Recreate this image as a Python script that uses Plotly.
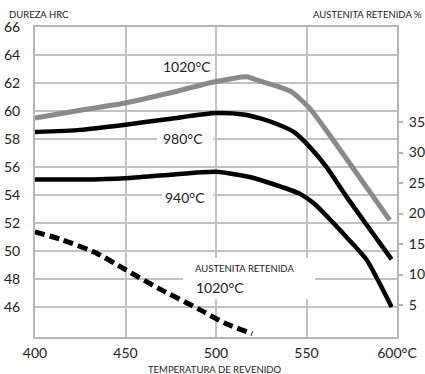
import plotly.graph_objects as go

# Hardness (HRC) vs tempering temperature for three hardening temperatures
temp_1020 = [400, 425, 449, 475, 498, 517, 524, 533, 542, 552, 561, 578, 596]
hrc_1020 = [59.5, 60.05, 60.55, 61.3, 62.05, 62.45, 62.15, 61.8, 61.35, 60.15, 58.6, 55.5, 52.2]

temp_980 = [400, 425, 449, 475, 500, 515, 525, 534, 543, 552, 561, 572, 597]
hrc_980 = [58.5, 58.65, 59.0, 59.45, 59.85, 59.75, 59.45, 59.05, 58.5, 57.4, 56.0, 53.9, 49.4]

temp_940 = [400, 425, 450, 475, 500, 518, 531, 546, 554, 572, 583, 597]
hrc_940 = [55.1, 55.1, 55.2, 55.45, 55.65, 55.3, 54.8, 54.1, 53.4, 51.0, 49.4, 46.0]

# Retained austenite (%) after hardening at 1020 °C
temp_aust = [400, 415, 434, 450, 469, 490, 505, 520]
aust_1020 = [17.0, 15.7, 13.5, 10.8, 7.6, 4.4, 2.0, 0.3]

x_ticks = [400, 450, 500, 550, 600]
x_ticktext = ["400", "450", "500", "550", "600°C"]
hrc_ticks = [46, 48, 50, 52, 54, 56, 58, 60, 62, 64, 66]
aust_ticks = [5, 10, 15, 20, 25, 30, 35]

FONT = "Lato"
GRID = "#c2c2c2"

fig = go.Figure()
fig.add_trace(go.Scatter(x=temp_1020, y=hrc_1020, mode="lines",
                         line=dict(color="#8a8a8a", width=5, shape="spline",
                                   smoothing=0.5)))
fig.add_trace(go.Scatter(x=temp_980, y=hrc_980, mode="lines",
                         line=dict(color="#000000", width=4.5, shape="spline",
                                   smoothing=0.6)))
fig.add_trace(go.Scatter(x=temp_940, y=hrc_940, mode="lines",
                         line=dict(color="#000000", width=4.5, shape="spline",
                                   smoothing=0.6)))
fig.add_trace(go.Scatter(x=temp_aust, y=aust_1020, mode="lines", yaxis="y2",
                         line=dict(color="#000000", width=5, dash="10px,5px",
                                   shape="spline", smoothing=0.6)))

# white panels behind the curve labels (above the grid, below the curves)
for x0, x1, y0, y1 in [(467.4, 498.5, 57.43, 58.57),
                       (470.2, 498.5, 53.3, 54.6),
                       (481.8, 554.7, 46.55, 49.5)]:
    fig.add_shape(type="rect", xref="x", yref="y", x0=x0, x1=x1, y0=y0, y1=y1,
                  fillcolor="white", line=dict(width=0), layer="between")

label_font = dict(family=FONT, size=14, color="#222")
small_font = dict(family=FONT, size=9.5, color="#222")

annotations = [
    dict(x=484, y=63.21, xref="x", yref="y", text="1020°C", showarrow=False,
         font=label_font),
    dict(x=481.5, y=58.0, xref="x", yref="y", text="980°C", showarrow=False,
         font=label_font),
    dict(x=482.9, y=53.79, xref="x", yref="y", text="940°C", showarrow=False,
         font=label_font),
    dict(x=487.3, y=48.71, xref="x", yref="y", text="AUSTENITA RETENIDA",
         showarrow=False, xanchor="left", font=small_font),
    dict(x=487.8, y=47.36, xref="x", yref="y", text="1020°C", showarrow=False,
         xanchor="left", font=label_font),
    dict(x=-0.077, y=1.04, xref="paper", yref="paper", text="DUREZA HRC",
         showarrow=False, xanchor="left", yanchor="middle", font=small_font),
    dict(x=1.0746, y=1.04, xref="paper", yref="paper",
         text="AUSTENITA RETENIDA %", showarrow=False, xanchor="right",
         yanchor="middle", font=small_font),
    dict(x=0.497, y=-0.106, xref="paper", yref="paper",
         text="TEMPERATURA DE REVENIDO", showarrow=False, xanchor="center",
         yanchor="middle", font=small_font),
]

fig.update_layout(
    width=425, height=374,
    margin=dict(l=35, r=28, t=27, b=37),
    plot_bgcolor="white", paper_bgcolor="white",
    showlegend=False,
    font=dict(family=FONT, size=14, color="#222"),
    annotations=annotations,
    xaxis=dict(range=[400, 600], tickvals=x_ticks, ticktext=x_ticktext,
               showgrid=True, gridcolor=GRID, gridwidth=2,
               showline=True, linecolor="#b5b5b5", linewidth=2, mirror=True,
               ticks="", zeroline=False, ticklabelstandoff=2,
               automargin=False),
    yaxis=dict(range=[43.85, 66], tickvals=hrc_ticks,
               showgrid=True, gridcolor=GRID, gridwidth=2,
               showline=True, linecolor="#b5b5b5", linewidth=2, mirror=True,
               ticks="", zeroline=False, ticklabelstandoff=10,
               automargin=False),
    yaxis2=dict(range=[-0.25, 50.6], tickvals=aust_ticks, overlaying="y",
                side="right", showgrid=False, zeroline=False, showline=False,
                ticks="outside", ticklen=5, tickwidth=2, tickcolor="#b5b5b5",
                ticklabelstandoff=3, automargin=False),
)

fig.write_html("out.html")
